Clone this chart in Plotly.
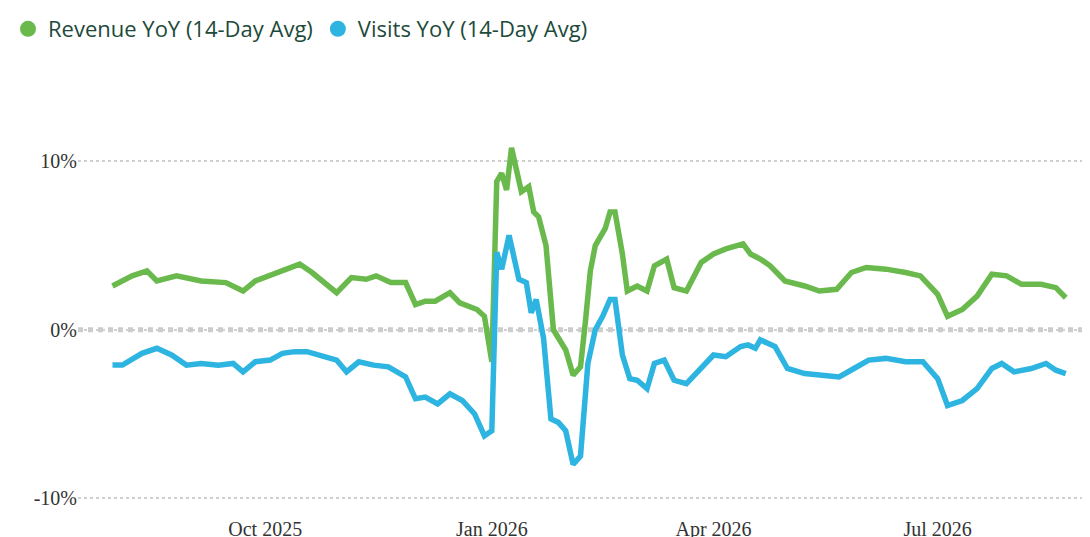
import plotly.graph_objects as go

rev_dates = ["2025-07-31", "2025-08-08", "2025-08-14", "2025-08-18", "2025-08-26", "2025-09-05", "2025-09-15",
             "2025-09-22", "2025-09-27", "2025-10-06", "2025-10-15", "2025-10-20", "2025-10-28", "2025-10-30",
             "2025-11-05", "2025-11-11", "2025-11-15", "2025-11-21", "2025-11-27", "2025-12-01", "2025-12-05",
             "2025-12-09", "2025-12-15", "2025-12-19", "2025-12-26", "2025-12-29", "2026-01-01", "2026-01-03",
             "2026-01-05", "2026-01-07", "2026-01-09", "2026-01-13", "2026-01-16", "2026-01-18", "2026-01-20",
             "2026-01-23", "2026-01-26", "2026-01-29", "2026-01-31", "2026-02-03", "2026-02-06", "2026-02-08",
             "2026-02-10", "2026-02-12", "2026-02-16", "2026-02-18", "2026-02-20", "2026-02-23", "2026-02-25",
             "2026-03-01", "2026-03-05", "2026-03-08", "2026-03-13", "2026-03-16", "2026-03-21", "2026-03-27",
             "2026-04-01", "2026-04-06", "2026-04-13", "2026-04-16", "2026-04-20", "2026-04-24", "2026-04-30",
             "2026-05-08", "2026-05-14", "2026-05-21", "2026-05-27", "2026-06-02", "2026-06-10", "2026-06-18",
             "2026-06-24", "2026-07-01", "2026-07-05", "2026-07-11", "2026-07-17", "2026-07-23", "2026-07-29",
             "2026-08-04", "2026-08-12", "2026-08-18", "2026-08-22"]
rev_yoy = [2.6, 3.2, 3.5, 2.9, 3.2, 2.9, 2.8, 2.3, 2.9, 3.4, 3.9, 3.4, 2.5, 2.2, 3.1, 3.0, 3.2, 2.8, 2.8,
           1.5, 1.7, 1.7, 2.2, 1.6, 1.2, 0.8, -1.9, 8.8, 9.3, 8.3, 10.8, 8.2, 8.5, 7.0, 6.7, 5.0, 0.0, -0.8,
           -1.2, -2.7, -2.2, 0.5, 3.5, 5.0, 6.0, 7.0, 7.0, 4.5, 2.3, 2.6, 2.3, 3.8, 4.2, 2.5, 2.3, 4.0, 4.5,
           4.8, 5.1, 4.5, 4.2, 3.8, 2.9, 2.6, 2.3, 2.4, 3.4, 3.7, 3.6, 3.4, 3.2, 2.1, 0.8, 1.2, 2.0, 3.3, 3.2,
           2.7, 2.7, 2.5, 1.9]

vis_dates = ["2025-07-31", "2025-08-04", "2025-08-12", "2025-08-18", "2025-08-24", "2025-08-30", "2025-09-05",
             "2025-09-12", "2025-09-18", "2025-09-22", "2025-09-27", "2025-10-03", "2025-10-08", "2025-10-13",
             "2025-10-18", "2025-10-25", "2025-10-30", "2025-11-03", "2025-11-08", "2025-11-14", "2025-11-20",
             "2025-11-27", "2025-12-01", "2025-12-05", "2025-12-10", "2025-12-15", "2025-12-20", "2025-12-25",
             "2025-12-29", "2026-01-01", "2026-01-03", "2026-01-05", "2026-01-08", "2026-01-12", "2026-01-15",
             "2026-01-17", "2026-01-19", "2026-01-22", "2026-01-25", "2026-01-28", "2026-01-31", "2026-02-03",
             "2026-02-06", "2026-02-09", "2026-02-12", "2026-02-15", "2026-02-18", "2026-02-20", "2026-02-23",
             "2026-02-26", "2026-03-01", "2026-03-05", "2026-03-08", "2026-03-12", "2026-03-16", "2026-03-21",
             "2026-03-27", "2026-04-01", "2026-04-06", "2026-04-12", "2026-04-15", "2026-04-18", "2026-04-20",
             "2026-04-26", "2026-05-01", "2026-05-08", "2026-05-15", "2026-05-22", "2026-05-28", "2026-06-03",
             "2026-06-10", "2026-06-18", "2026-06-25", "2026-07-01", "2026-07-05", "2026-07-11", "2026-07-17",
             "2026-07-23", "2026-07-27", "2026-08-01", "2026-08-08", "2026-08-14", "2026-08-18", "2026-08-22"]
vis_yoy = [-2.1, -2.1, -1.4, -1.1, -1.5, -2.1, -2.0, -2.1, -2.0, -2.5, -1.9, -1.8, -1.4, -1.3, -1.3, -1.6,
           -1.8, -2.5, -1.9, -2.1, -2.2, -2.8, -4.1, -4.0, -4.4, -3.8, -4.2, -5.0, -6.3, -6.0, 4.6, 3.6, 5.6,
           3.0, 2.8, 1.0, 1.8, -0.5, -5.3, -5.5, -6.0, -8.0, -7.5, -2.0, 0.0, 0.8, 1.8, 1.8, -1.5, -2.9, -3.0,
           -3.5, -2.0, -1.8, -3.0, -3.2, -2.3, -1.5, -1.6, -1.0, -0.9, -1.1, -0.6, -1.0, -2.3, -2.6, -2.7,
           -2.8, -2.3, -1.8, -1.7, -1.9, -1.9, -2.9, -4.5, -4.2, -3.5, -2.3, -2.0, -2.5, -2.3, -2.0, -2.4, -2.6]

GREEN = "#6ab94c"
BLUE = "#2db4e0"

fig = go.Figure()
# dotted zero line drawn under the series
fig.add_hline(y=0, line=dict(color="#cccccc", width=5, dash="dot"), layer="below")
for name, x, y, color in [("Revenue YoY (14-Day Avg)", rev_dates, rev_yoy, GREEN),
                          ("Visits YoY (14-Day Avg)", vis_dates, vis_yoy, BLUE)]:
    fig.add_trace(go.Scatter(x=x, y=y, mode="lines", line=dict(color=color, width=5.5),
                             showlegend=False, name=name))
    # legend entry with round marker
    fig.add_trace(go.Scatter(x=[None], y=[None], mode="markers", name=name,
                             marker=dict(color=color, size=24, symbol="circle")))

fig.update_layout(
    width=1090, height=537,
    margin=dict(l=70, r=15, t=86, b=30, autoexpand=False),
    plot_bgcolor="white", paper_bgcolor="white",
    legend=dict(orientation="h", xref="container", yref="container", x=0.0, xanchor="left",
                y=1.0, yanchor="top",
                font=dict(family="Open Sans", size=22, color="#1d4a3a"),
                itemwidth=30, traceorder="normal", tracegroupgap=0),
    xaxis=dict(range=["2025-07-17", "2026-08-29"], showgrid=False, zeroline=False, automargin=False,
               tickvals=["2025-10-01", "2026-01-01", "2026-04-01", "2026-07-01"],
               ticktext=["Oct 2025", "Jan 2026", "Apr 2026", "Jul 2026"],
               tickfont=dict(family="Liberation Serif", size=20, color="#333")),
    yaxis=dict(range=[-11, 14], tickvals=[-10, 0, 10], ticktext=["-10%", "0%", "10%"], automargin=False,
               showgrid=True, gridcolor="#cfcfcf", griddash="dot", gridwidth=1.5, zeroline=False,
               tickfont=dict(family="Liberation Serif", size=20, color="#333")),
)
fig.write_html("out.html")
